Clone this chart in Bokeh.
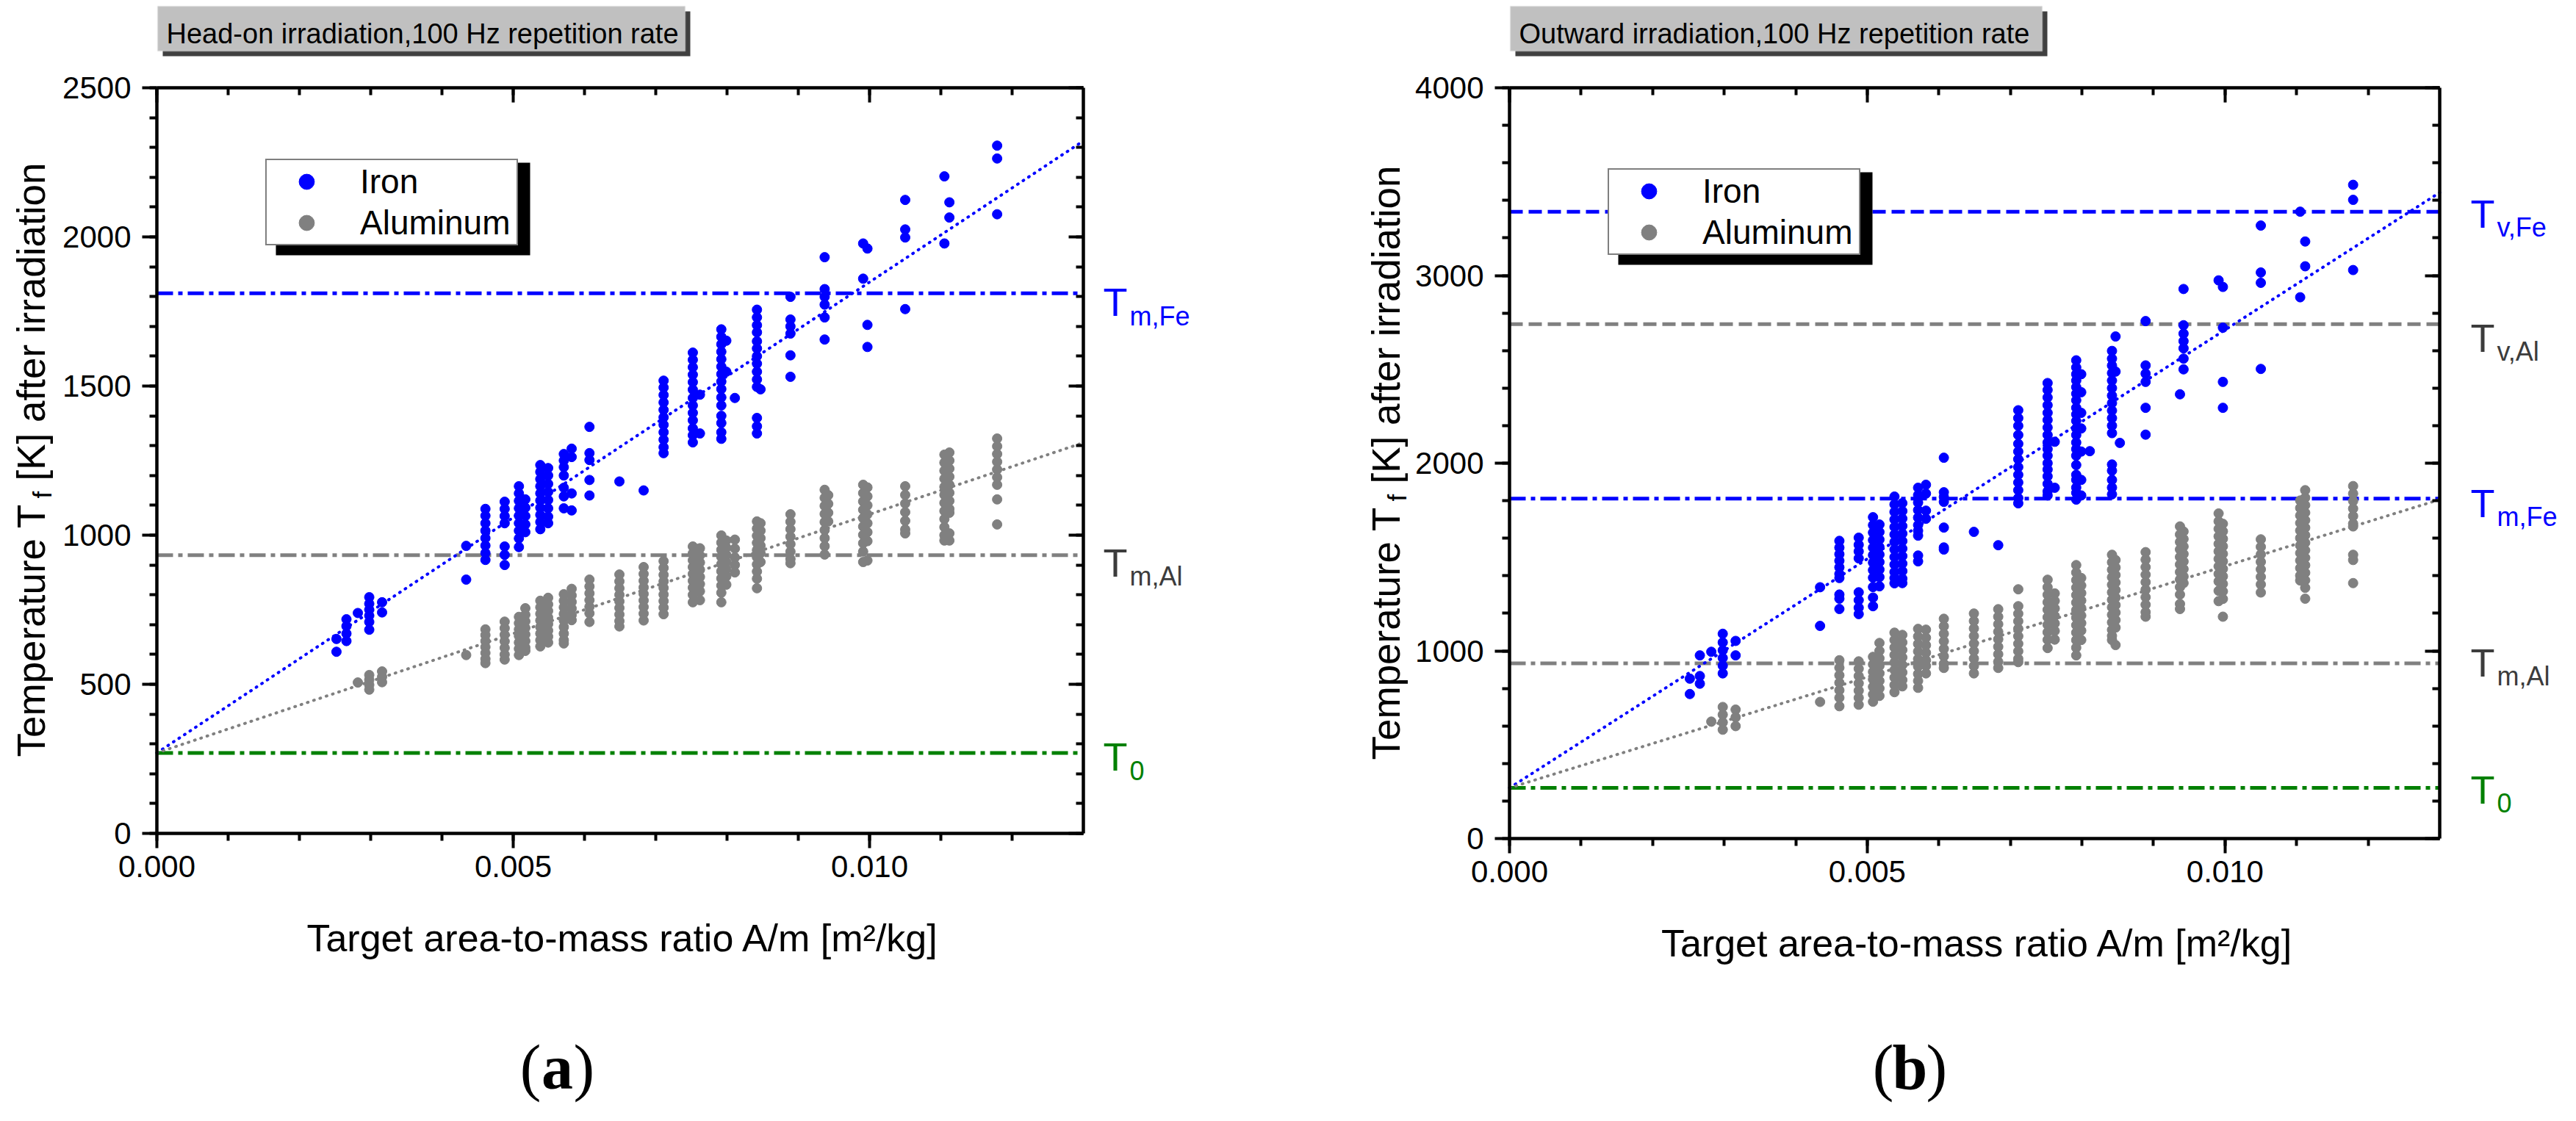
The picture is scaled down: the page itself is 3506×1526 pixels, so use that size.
import math

from bokeh.plotting import figure
from bokeh.layouts import row
from bokeh.models import (Range1d, LinearAxis, SingleIntervalTicker, PrintfTickFormatter,
                          Label, BoxAnnotation, Legend, LegendItem)
from bokeh.embed import file_html
from bokeh.resources import INLINE

# ---- data ----
XMAX = 0.013

# target area-to-mass ratios [m^2/kg] (columns of points)
AM = [0.00252, 0.00266, 0.00282, 0.00298, 0.00316, 0.00434, 0.00461, 0.00488,
      0.00508, 0.00517, 0.00538, 0.00549, 0.00571, 0.00582, 0.00607, 0.00649,
      0.00683, 0.00711, 0.00752, 0.00762, 0.00792, 0.00799, 0.00811, 0.00842,
      0.00847, 0.00853, 0.00889, 0.00937, 0.00942, 0.00991, 0.00997, 0.01050,
      0.01105, 0.01112, 0.01179]

# (a) head-on irradiation, temperature [K] per column
IRON_HEAD = [
    [652, 609], [718, 695, 670, 645], [739], [792, 770, 750, 730, 709, 683], [775, 741],
    [964, 851], [1088, 1065, 1040, 1015, 990, 965, 940, 917],
    [1112, 1088, 1064, 1040, 962, 934, 900],
    [1164, 1140, 1115, 1090, 1065, 1040, 1015, 989, 960],
    [1120, 1092, 1064, 1036, 1010],
    [1235, 1212, 1188, 1164, 1140, 1116, 1092, 1068, 1044, 1020],
    [1225, 1200, 1172, 1145, 1118, 1090, 1062, 1040],
    [1272, 1250, 1228, 1200, 1159, 1130, 1090], [1290, 1262, 1140, 1083],
    [1363, 1275, 1252, 1185, 1133], [1180], [1150],
    [1518, 1495, 1470, 1445, 1420, 1395, 1370, 1345, 1320, 1295, 1275],
    [1612, 1588, 1563, 1538, 1513, 1488, 1460, 1435, 1410, 1385, 1358, 1335, 1311],
    [1471, 1341],
    [1690, 1665, 1640, 1615, 1590, 1565, 1540, 1515, 1490, 1462, 1435, 1400, 1376, 1345, 1323],
    [1652, 1548], [1460],
    [1756, 1730, 1704, 1680, 1650, 1626, 1600, 1575, 1548, 1522, 1497, 1393, 1365, 1341],
    [1489], [], [1799, 1723, 1700, 1676, 1603, 1531], [1932, 1825, 1799, 1773, 1730, 1656],
    [], [1978, 1860], [1961, 1705, 1631], [2124, 2025, 1998, 1758], [2203, 1978],
    [2116, 2065], [2306, 2263, 2076],
]
ALU_HEAD = [
    [], [], [506], [531, 515, 498, 482], [543, 525, 507], [598],
    [684, 665, 645, 625, 605, 585, 571], [710, 688, 666, 644, 622, 600, 583],
    [726, 705, 684, 662, 640, 619, 598], [755, 733, 711, 689, 667, 645, 623, 612],
    [780, 758, 736, 714, 692, 670, 648, 627], [790, 768, 746, 724, 702, 680, 660, 640],
    [802, 780, 758, 736, 714, 692, 670, 648, 637], [820, 798, 776, 754, 732, 715],
    [851, 828, 805, 782, 760, 738, 709], [868, 845, 822, 800, 778, 756, 734, 712, 694],
    [893, 870, 847, 825, 803, 781, 759, 737, 714], [913, 890, 867, 845, 823, 801, 779, 757, 735],
    [962, 939, 916, 893, 870, 847, 824, 800, 775], [956, 932, 908, 884, 860, 836, 812, 782],
    [999, 975, 951, 927, 903, 879, 855, 831, 807, 775], [982, 958, 934, 910, 886, 862, 834],
    [985, 955, 925, 900, 875], [1046, 1022, 998, 974, 950, 926, 902, 878, 854, 822],
    [1040, 1015, 990, 965, 940, 910], [], [1070, 1045, 1020, 995, 970, 945, 920, 906],
    [1152, 1125, 1098, 1071, 1044, 1017, 990, 963, 935], [1134, 1105, 1075, 1046],
    [1169, 1141, 1113, 1085, 1057, 1029, 1001, 973, 945, 910],
    [1160, 1130, 1100, 1070, 1040, 1010, 980, 915], [1164, 1135, 1106, 1077, 1048, 1019, 1006],
    [1270, 1243, 1216, 1189, 1162, 1135, 1108, 1081, 1054, 1027, 1000, 982],
    [1277, 1250, 1223, 1196, 1169, 1142, 1115, 1088, 1075, 1006, 982],
    [1324, 1298, 1272, 1246, 1220, 1194, 1169, 1120, 1036],
]

# (b) outward irradiation, temperature [K] per column
IRON_OUT = [
    [852, 770], [976, 866, 825], [995], [1091, 1045, 1003, 962, 921, 880], [1053, 976],
    [1339, 1133], [1586, 1550, 1515, 1480, 1445, 1410, 1388, 1300, 1278, 1223],
    [1603, 1565, 1530, 1493, 1312, 1270, 1230, 1196],
    [1712, 1670, 1630, 1590, 1550, 1510, 1470, 1430, 1390, 1340, 1284, 1238],
    [1673, 1633, 1593, 1553, 1513, 1473, 1433, 1393, 1344],
    [1822, 1780, 1740, 1700, 1660, 1620, 1580, 1540, 1500, 1460, 1420, 1388, 1360],
    [1787, 1745, 1705, 1665, 1625, 1585, 1545, 1505, 1465, 1425, 1385, 1361],
    [1869, 1830, 1790, 1750, 1710, 1670, 1640, 1614, 1508, 1477], [1885, 1838, 1747, 1704],
    [2029, 1845, 1820, 1794, 1657, 1551, 1540], [1634], [1563],
    [2282, 2240, 2199, 2150, 2103, 2062, 2021, 1979, 1938, 1897, 1856, 1814, 1786],
    [2427, 2390, 2350, 2309, 2268, 2230, 2190, 2150, 2110, 2075, 2040, 2000, 1966, 1930,
     1890, 1850, 1828],
    [2114, 1869],
    [2548, 2510, 2474, 2440, 2405, 2370, 2335, 2295, 2260, 2225, 2185, 2150, 2110, 2075,
     2040, 1990, 1938, 1911, 1870, 1842, 1806],
    [2474, 2378, 2268, 2185, 2062, 1911, 1828], [2064],
    [2598, 2557, 2520, 2480, 2440, 2400, 2360, 2320, 2280, 2240, 2200, 2160, 1993, 1960,
     1911, 1870, 1834],
    [2675, 2488], [2108], [2757, 2521, 2477, 2433, 2295, 2152], [2367],
    [2928, 2735, 2690, 2650, 2612, 2557, 2500], [2974], [2939, 2722, 2433, 2295],
    [3266, 3016, 2961, 2502], [3340, 2884], [3181, 3049], [3483, 3403, 3029],
]
ALU_OUT = [
    [], [], [623], [701, 660, 619, 580], [687, 646, 599], [728],
    [950, 910, 870, 830, 790, 750, 705], [944, 905, 866, 827, 788, 750, 713],
    [968, 928, 888, 848, 808, 768, 729], [1042, 1000, 960, 920, 880, 840, 800, 760],
    [1097, 1058, 1018, 978, 938, 898, 858, 818, 780],
    [1085, 1045, 1005, 965, 925, 885, 845, 811],
    [1117, 1077, 1037, 997, 957, 917, 877, 840, 803], [1113, 1070, 1030, 990, 950, 920, 880],
    [1171, 1131, 1091, 1051, 1011, 971, 931, 909],
    [1199, 1159, 1119, 1079, 1039, 999, 959, 919, 880],
    [1222, 1182, 1142, 1102, 1062, 1022, 982, 942, 909],
    [1328, 1238, 1198, 1158, 1118, 1078, 1038, 998, 958, 940],
    [1379, 1339, 1299, 1259, 1219, 1179, 1139, 1099, 1059, 1015],
    [1306, 1266, 1226, 1186, 1146, 1106, 1060],
    [1457, 1417, 1377, 1337, 1297, 1257, 1217, 1177, 1137, 1097, 1057, 1017, 976],
    [1388, 1348, 1308, 1268, 1228, 1188, 1148, 1108, 1058], [],
    [1512, 1472, 1432, 1392, 1352, 1312, 1272, 1232, 1192, 1152, 1112, 1080, 1058],
    [1484, 1444, 1404, 1364, 1324, 1284, 1244, 1204, 1164, 1124, 1031], [],
    [1526, 1486, 1446, 1406, 1366, 1326, 1286, 1246, 1206, 1182],
    [1663, 1620, 1580, 1540, 1500, 1460, 1420, 1380, 1340, 1300, 1250, 1223],
    [1636, 1596, 1556, 1516, 1476, 1436, 1396, 1361],
    [1732, 1690, 1650, 1610, 1570, 1530, 1490, 1450, 1410, 1370, 1320, 1265],
    [1677, 1637, 1597, 1557, 1517, 1477, 1437, 1397, 1357, 1317, 1277, 1182],
    [1594, 1554, 1514, 1474, 1434, 1394, 1354, 1311],
    [1801, 1761, 1721, 1681, 1641, 1601, 1561, 1521, 1481, 1441, 1401, 1375],
    [1856, 1816, 1776, 1736, 1696, 1656, 1616, 1576, 1536, 1496, 1456, 1416, 1376, 1336, 1278],
    [1878, 1838, 1798, 1758, 1718, 1678, 1663, 1512, 1484, 1361],
]

# reference temperatures [K]
T0 = 270
T_M_FE = 1811
T_M_AL = 933
T_V_FE = 3340
T_V_AL = 2741

# linear fits, value at A/m = 0 and at A/m = 0.013
FIT_X = [0.0, 0.013]
FIT_HEAD_FE = [270, 2322]
FIT_HEAD_AL = [270, 1310]
FIT_OUT_FE = [270, 3442]
FIT_OUT_AL = [270, 1806]

# ---- styling ----
W, H = 1745, 1510
BLUE, GREY, GREEN, DARK = "#0000ff", "#808080", "#008000", "#3c3c3c"
DASHDOT = "22 7 6 7"
DASHED = "18 8"
SANS = "Liberation Sans"


def flatten(cols):
    xs, ts = [], []
    for x, vals in zip(AM, cols):
        xs += [x] * len(vals)
        ts += vals
    return xs, ts


def make_panel(x0, fl, fr, ft, fb, ymax, ystep, title, title_w, iron, alu, fit_fe,
               fit_al, levels, sym_x, legend_px, ylab_x, ylab_start, tag, tag_x):
    # fl..fr, ft..fb: page pixels of the data box; the Bokeh frame fills the whole
    # canvas so that the texts around the box are not clipped
    gx = lambda px: (px - fl) / (fr - fl) * XMAX
    gy = lambda py: (fb - py) / (fb - ft) * ymax

    p = figure(width=W, height=H, x_range=Range1d(gx(x0), gx(x0 + W)),
               y_range=Range1d(gy(8 + H), gy(8)), min_border=0,
               x_axis_location=None, y_axis_location=None,
               toolbar_location=None, output_backend="svg")
    p.outline_line_color = None
    p.grid.visible = False

    def text(px, py, s, size, angle=0.0, **kw):
        # px, py: wanted baseline position; labels come out about 0.2em low
        kw.setdefault("text_font", SANS)
        kw.setdefault("text_color", "black")
        if angle:
            px -= 0.2 * size
        else:
            py -= 0.2 * size
        p.add_layout(Label(x=gx(px), y=gy(py), text=s, text_font_size=f"{size}px",
                           text_baseline="alphabetic", angle=angle, **kw))

    def box(l, t, r, b, **kw):
        p.add_layout(BoxAnnotation(left=gx(l), right=gx(r), top=gy(t), bottom=gy(b),
                                   fill_alpha=1, **kw))

    xt = SingleIntervalTicker(interval=0.005, num_minor_ticks=5)
    yt = SingleIntervalTicker(interval=ystep, num_minor_ticks=5)
    sides = (("below", xt, 0, (0, XMAX)), ("left", yt, 0, (0, ymax)),
             ("above", xt, ymax, (0, XMAX)), ("right", yt, XMAX, (0, ymax)))
    for side, ticker, loc, bounds in sides:
        ax = LinearAxis(ticker=ticker, fixed_location=loc, bounds=bounds,
                        axis_line_width=4.5, major_tick_line_width=4, minor_tick_line_width=4)
        if side in ("below", "left"):
            ax.major_tick_out, ax.major_tick_in = 20, 0
            ax.minor_tick_out, ax.minor_tick_in = 10, 0
            ax.major_label_text_font = SANS
            ax.major_label_text_font_size = "42px"
            ax.major_label_text_color = "black"
            ax.major_label_standoff = 10 if side == "below" else 15
        else:
            ax.major_tick_out, ax.major_tick_in = 0, 20
            ax.minor_tick_out, ax.minor_tick_in = 0, 10
            ax.major_label_text_color = None
        if side == "below":
            ax.formatter = PrintfTickFormatter(format="%.3f")
        p.add_layout(ax, side)

    # reference temperature levels
    for value, color, dash, sym, sub, text_color, off in levels:
        p.line(FIT_X, [value, value], line_color=color, line_width=5, line_dash=dash)
        base = fb - value / ymax * (fb - ft) + off
        text(sym_x, base, sym, 54, text_color=text_color)
        text(sym_x + 36, base + 15, sub, 36, text_color=text_color)

    # fits
    p.line(FIT_X, fit_fe, line_color=BLUE, line_width=4, line_dash="1 8", line_cap="round")
    p.line(FIT_X, fit_al, line_color=GREY, line_width=4, line_dash="1 8", line_cap="round")

    xs, ts = flatten(iron)
    r_fe = p.scatter(xs, ts, size=13, color=BLUE)
    xs, ts = flatten(alu)
    r_al = p.scatter(xs, ts, size=13, color=GREY)

    # legend with drop shadow
    lx, ly = legend_px
    box(lx + 14, ly + 13, lx + 360, ly + 139, fill_color="black", line_color=None)
    legend = Legend(items=[LegendItem(label="Iron", renderers=[r_fe]),
                           LegendItem(label="Aluminum", renderers=[r_al])],
                    location=(lx - x0, 8 + H - (ly + 126)), margin=0, padding=2, spacing=2,
                    glyph_width=104, glyph_height=52, label_height=52, label_width=211,
                    label_standoff=21, label_text_font=SANS, label_text_font_size="46px",
                    label_text_color="black", border_line_color="black",
                    border_line_width=2, background_fill_alpha=1)
    p.add_layout(legend)

    # title box with shadow
    bl = fl + 1
    box(bl + 7, 23, bl + title_w + 7, 84, fill_color="#404040", line_color=None)
    box(bl, 16, bl + title_w, 77, fill_color="#c0c0c0", line_color="#e4e4e4", line_width=2)
    text(bl + 12, 61, title, 38)

    # axis titles
    text((fl + fr) / 2 + 4, fb + 153, "Target area-to-mass ratio A/m [m²/kg]", 52,
         text_align="center")
    up = math.pi / 2
    text(ylab_x, ylab_start, "Temperature T", 53, angle=up)
    text(ylab_x + 11, ylab_start - 352, "f", 35, angle=up)
    text(ylab_x, ylab_start - 376, "[K] after irradiation", 53, angle=up)

    # panel tag (a) / (b)
    serif = dict(text_font="Liberation Serif")
    text(tag_x, 1478, tag, 86, text_align="center", text_font_style="bold", **serif)
    text(tag_x - 22, 1478, "(", 86, text_align="right", **serif)
    text(tag_x + 22, 1478, ")", 86, text_align="left", **serif)
    return p


levels_head = [
    (T_M_FE, BLUE, DASHDOT, "T", "m,Fe", BLUE, 23),
    (T_M_AL, GREY, DASHDOT, "T", "m,Al", DARK, 21),
    (T0, GREEN, DASHDOT, "T", "0", GREEN, 16),
]
levels_out = [
    (T_V_FE, BLUE, DASHED, "T", "v,Fe", BLUE, 14),
    (T_V_AL, GREY, DASHED, "T", "v,Al", DARK, 30),
    (T_M_FE, BLUE, DASHDOT, "T", "m,Fe", BLUE, 17),
    (T_M_AL, GREY, DASHDOT, "T", "m,Al", DARK, 10),
    (T0, GREEN, DASHDOT, "T", "0", GREEN, 13),
]

pa = make_panel(8, 221, 1482, 127, 1142, 2500, 500,
                "Head-on irradiation,100 Hz repetition rate", 718,
                IRON_HEAD, ALU_HEAD, FIT_HEAD_FE, FIT_HEAD_AL, levels_head, 1509,
                (369, 216), 61, 1038, "a", 766)
pb = make_panel(8 + W, 2062, 3328, 127, 1149, 4000, 1000,
                "Outward irradiation,100 Hz repetition rate", 724,
                IRON_OUT, ALU_OUT, FIT_OUT_FE, FIT_OUT_AL, levels_out, 3370,
                (2196, 229), 1905, 1042, "b", 2607)

layout = row(pa, pb)
open("out.html", "w").write(file_html(layout, INLINE, title="Temperature after irradiation"))
